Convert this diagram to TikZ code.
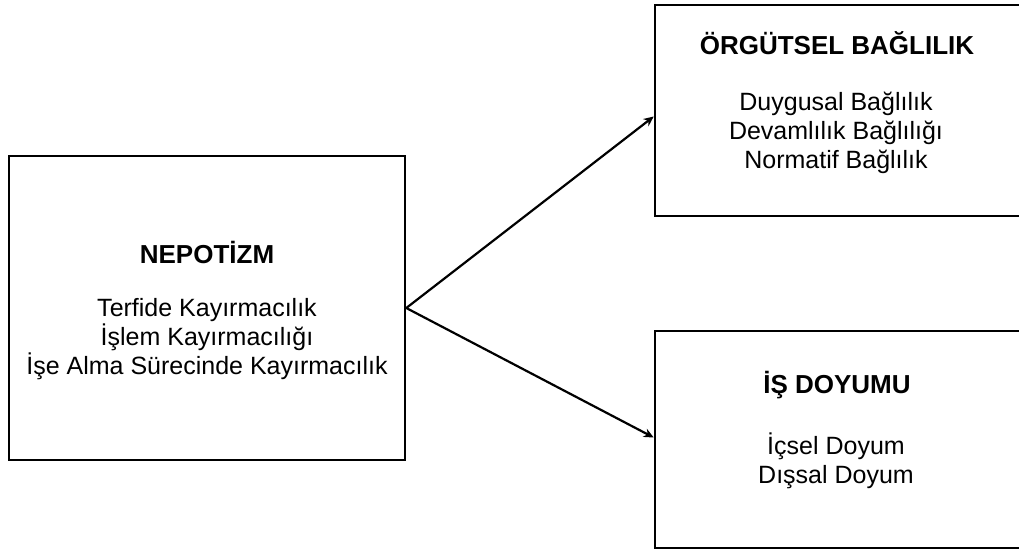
\documentclass[tikz,border=0pt]{standalone}
\usepackage{fontspec}
\setmainfont{Liberation Sans}
\usepackage{tikz}
\usetikzlibrary{arrows.meta,positioning}
\tikzset{
  box/.style n args={2}{draw, line width=1.3pt, minimum width=#1, minimum height=#2,
        inner sep=0pt},
  ttl/.style={font=\fontsize{13pt}{15pt}\selectfont\bfseries, align=center, inner sep=0pt},
  itm/.style={font=\fontsize{12.5pt}{14.5pt}\selectfont, align=center, inner sep=0pt},
  a/.style={-{Stealth[length=5pt,width=4.5pt]}, line width=1.1pt},
}

\begin{document}
\begin{tikzpicture}[x=0.5pt,y=-0.5pt]
  \useasboundingbox (0,0) rectangle (1019,553);
  % boxes
  \node[box={198pt}{152pt}] (nep) at (207,308) {};
  \node[box={186pt}{105.5pt}] (org) at (841,110.5) {};
  \node[box={186pt}{108.5pt}] (doy) at (841,439.5) {};
  % texts
  \node[ttl] (nepT) at (207,252) {NEPOTİZM};
  \node[itm] (nepL) at (207,339) {Terfide Kayırmacılık\\İşlem Kayırmacılığı\\İşe Alma Sürecinde Kayırmacılık};
  \node[ttl] (orgT) at (837,43) {ÖRGÜTSEL BAĞLILIK};
  \node[itm] (orgL) at (836,133) {Duygusal Bağlılık\\Devamlılık Bağlılığı\\Normatif Bağlılık};
  \node[ttl] (doyT) at (837,385) {İŞ DOYUMU};
  \node[itm] (doyL) at (836,461) {İçsel Doyum\\Dışsal Doyum};
  % edges
  \draw[a] (nep.east) -- ([yshift=-3pt]org.west);
  \draw[a] (nep.east) -- ([yshift=1pt]doy.west);
\end{tikzpicture}
\end{document}
